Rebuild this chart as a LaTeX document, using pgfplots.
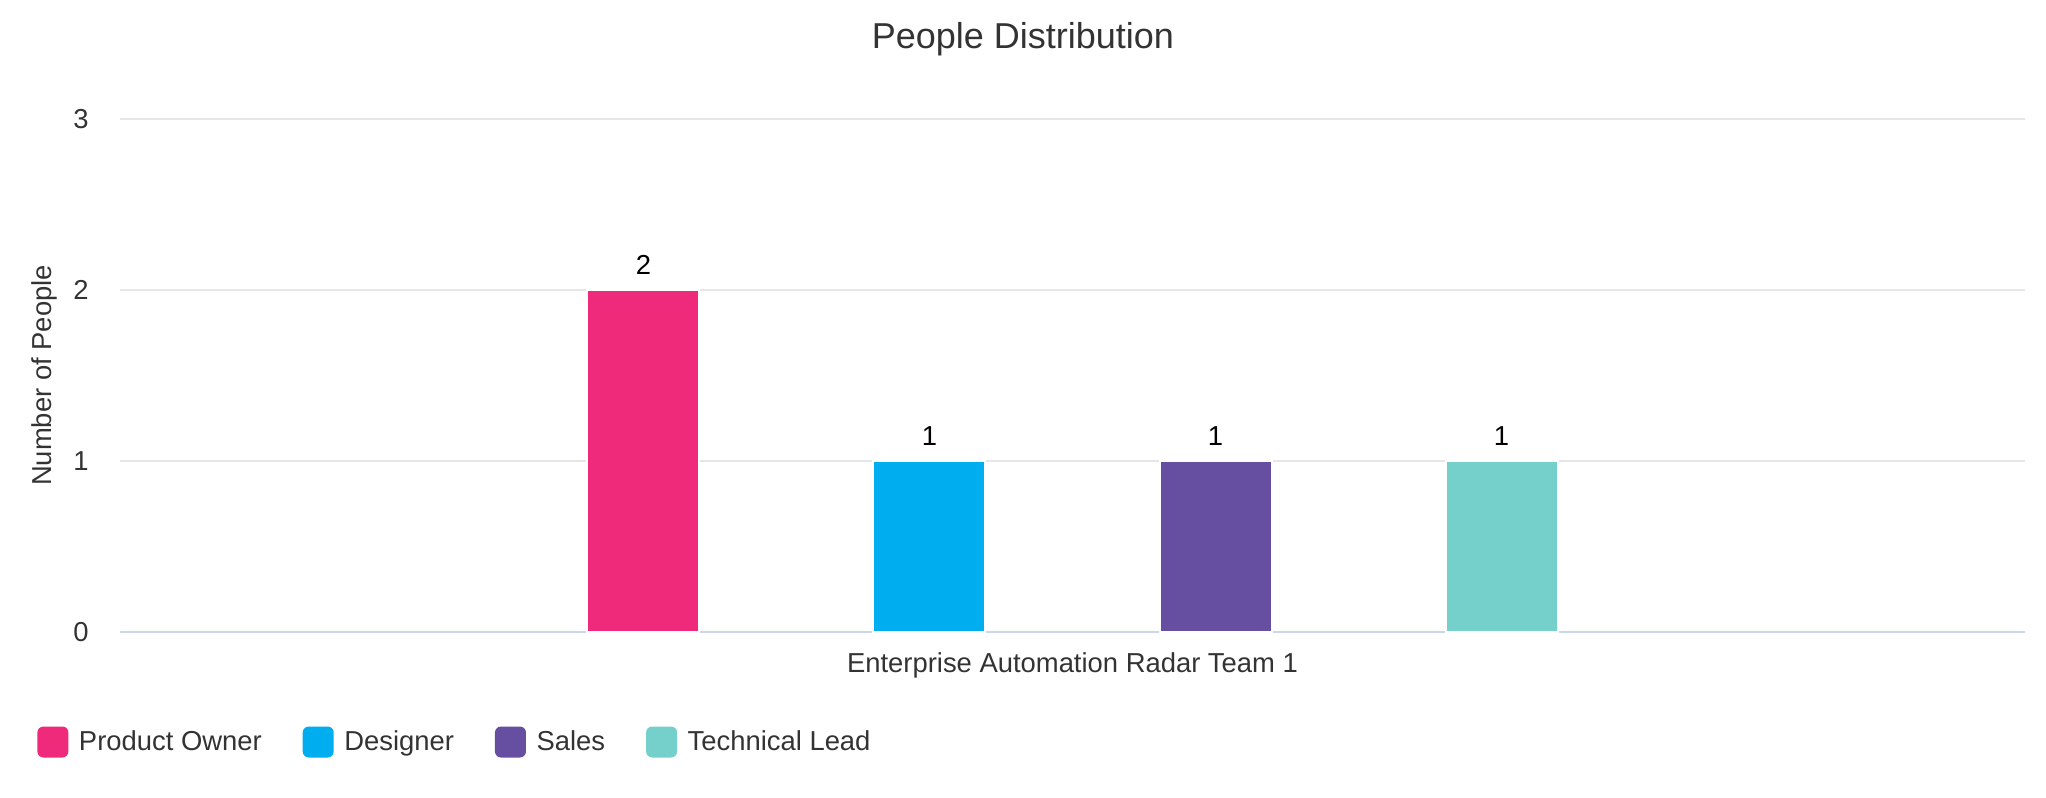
\documentclass[border=0pt]{standalone}
\usepackage{pgfplots}
\pgfplotsset{compat=1.18}
\usepackage{fontspec}
\setmainfont{Liberation Sans}
\definecolor{cPO}{RGB}{239,42,123}
\definecolor{cDe}{RGB}{0,174,239}
\definecolor{cSa}{RGB}{102,79,160}
\definecolor{cTL}{RGB}{117,208,203}
\definecolor{gridcol}{RGB}{230,230,230}
\definecolor{axcol}{RGB}{204,214,235}
\definecolor{txt}{RGB}{51,51,51}
\newcommand{\bodyfont}{\fontsize{13.7}{16}\selectfont}
\begin{document}
\begin{tikzpicture}
\useasboundingbox (-60pt,-83pt) rectangle (963pt,316pt);
\begin{axis}[
  at={(0,0)}, anchor=south west,
  scale only axis, width=952.5pt, height=256.5pt,
  xmin=-3.33, xmax=3.33, ymin=0, ymax=3,
  ybar, bar width=56pt, bar shift=0pt,
  axis x line=bottom, axis y line=left,
  x axis line style={draw=axcol, line width=1pt, -},
  y axis line style={draw=none},
  major tick length=0pt,
  ymajorgrids, grid style={draw=gridcol, line width=1pt},
  ytick={0,1,2,3},
  xtick={0}, xticklabels={Enterprise Automation Radar Team 1},
  /pgf/number format/assume math mode=true,
  ticklabel style={font=\bodyfont, text=txt},
  xticklabel style={anchor=center, yshift=-16.5pt},
  yticklabel style={anchor=center, xshift=-19.5pt},
  ylabel={Number of People},
  ylabel style={at={(axis description cs:-0.0399,0.5)}, anchor=center, font=\bodyfont, text=txt},
  title={People Distribution},
  title style={at={(axis description cs:0.5,1)}, anchor=center, xshift=-24.8pt, yshift=34pt, font=\fontsize{18}{21}\selectfont, text=txt},
  nodes near coords,
  every node near coord/.append style={anchor=center, yshift=12.5pt, font=\bodyfont, text=black},
  legend image code/.code={\fill[#1, draw=none, rounded corners=3pt] (0pt,-7.75pt) rectangle (15.5pt,7.75pt);},
  legend columns=4,
  legend style={at={(axis description cs:0,0)}, anchor=west, xshift=-41.5pt, yshift=-55pt,
    draw=none, fill=none, inner sep=0pt, font=\bodyfont, text=txt,
    /tikz/every odd column/.append style={column sep=3.3pt},
    /tikz/every even column/.append style={column sep=18.5pt}},
  legend cell align=left,
]
\addplot[fill=cPO, draw=white, line width=1pt] coordinates {(-1.5,2)};
\addplot[fill=cDe, draw=white, line width=1pt] coordinates {(-0.5,1)};
\addplot[fill=cSa, draw=white, line width=1pt] coordinates {(0.5,1)};
\addplot[fill=cTL, draw=white, line width=1pt] coordinates {(1.5,1)};
\legend{Product Owner, Designer, Sales, Technical Lead}
\end{axis}
\end{tikzpicture}
\end{document}
